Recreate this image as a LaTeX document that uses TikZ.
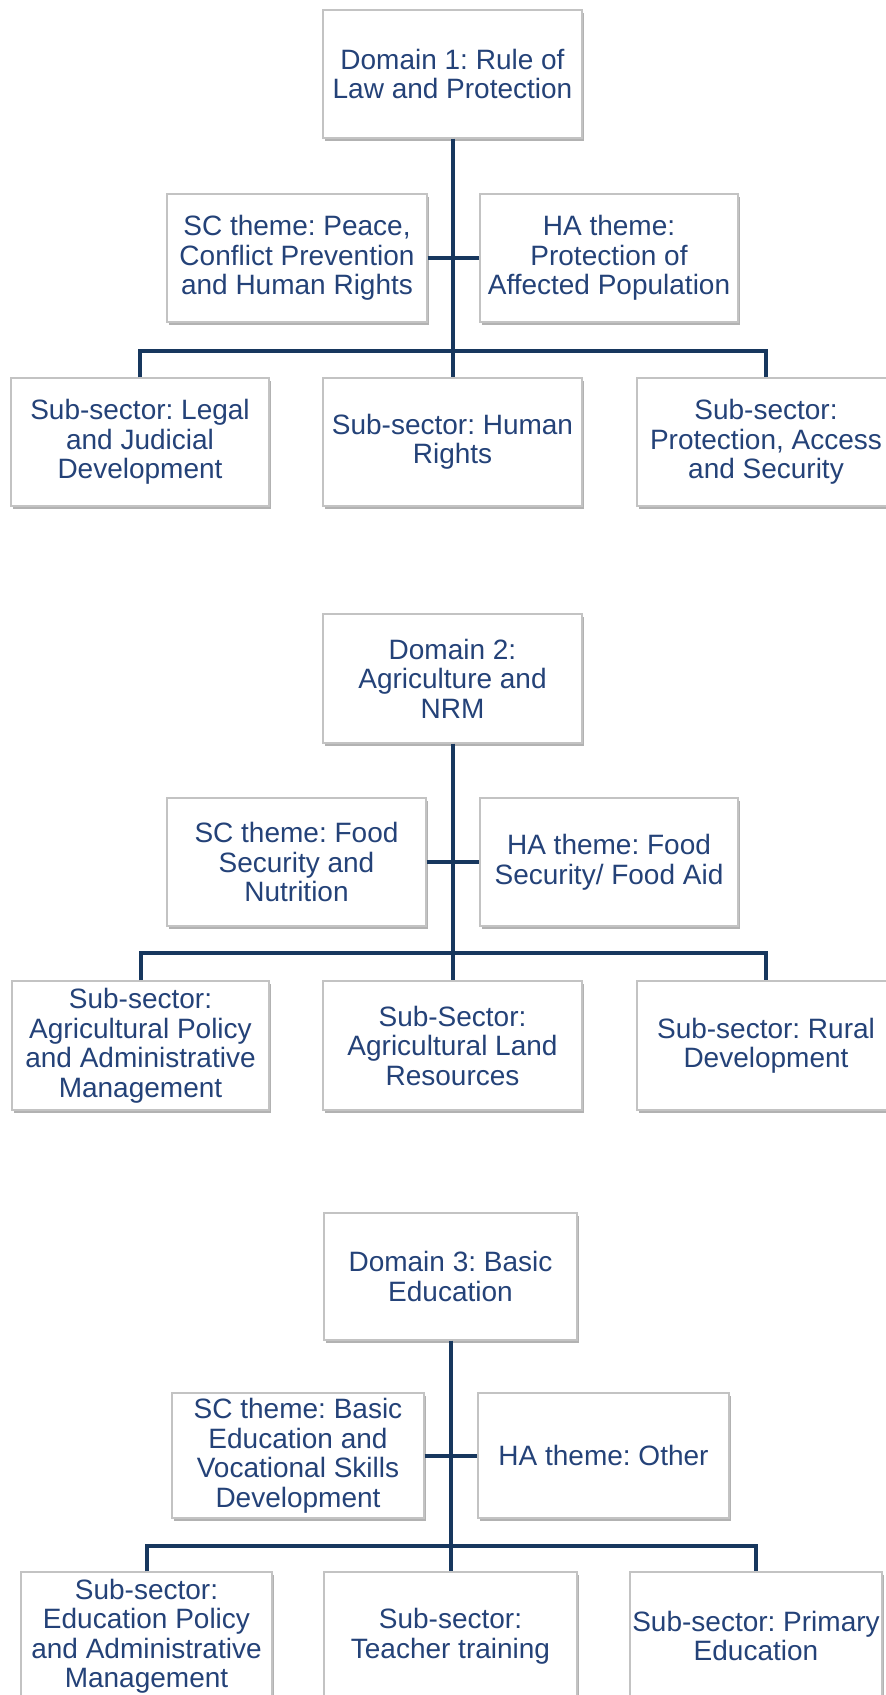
\documentclass[tikz,border=0pt]{standalone}
\usepackage{fontspec}
\setmainfont{Liberation Sans}
\usetikzlibrary{shadows}
\definecolor{txtblue}{RGB}{36,66,120}
\definecolor{linenavy}{RGB}{23,55,94}
\definecolor{boxgray}{RGB}{195,195,195}
\tikzset{
  box/.style={draw=boxgray, line width=1.2pt, fill=white, align=center,
    text=txtblue, font=\fontsize{28}{29.5}\selectfont\frenchspacing, inner sep=0pt,
    drop shadow={shadow xshift=1.5pt, shadow yshift=-2.5pt, opacity=0.5, fill=black!60}},
  sz/.style 2 args={minimum width=#1pt, minimum height=#2pt},
  conn/.style={draw=linenavy, line width=4pt}
}
\begin{document}
\frenchspacing
\begin{tikzpicture}[x=1pt,y=1pt]
\fill[white] (0,0) rectangle (886,-1695);
\useasboundingbox (0,0) rectangle (886,-1695);

% ---------- Domain 1 ----------
\node[box, sz={259}{128}] (d1) at (452.5,-74) {Domain 1: Rule of\\Law and Protection};
\node[box, sz={260}{128}] (sc1) at (297,-258) {SC theme: Peace,\\Conflict Prevention\\and Human Rights};
\node[box, sz={258}{128}] (ha1) at (609,-258) {HA theme:\\Protection of\\Affected Population};
\node[box, sz={258}{128}] (s11) at (140,-442) {Sub-sector: Legal\\and Judicial\\Development};
\node[box, sz={259}{128}] (s12) at (452.5,-442) {Sub-sector: Human\\Rights};
\node[box, sz={258}{128}] (s13) at (766,-442) {Sub-sector:\\Protection, Access\\and Security};
\coordinate (b1) at (452.5,-351);
\draw[conn] (d1.south) -- (s12.north);
\draw[conn] (sc1.east) -- (ha1.west);
\draw[conn] (s11.north) |- (b1) -| (s13.north);

% ---------- Domain 2 ----------
\node[box, sz={259}{129}] (d2) at (452.5,-678.5) {Domain 2:\\Agriculture and\\NRM};
\node[box, sz={259}{128}] (sc2) at (296.5,-862) {SC theme: Food\\Security and\\Nutrition};
\node[box, sz={258}{128}] (ha2) at (609,-862) {HA theme: Food\\Security/ Food Aid};
\node[box, sz={257}{129}] (s21) at (140.5,-1045.5) {Sub-sector:\\Agricultural Policy\\and Administrative\\Management};
\node[box, sz={259}{129}] (s22) at (452.5,-1045.5) {Sub-Sector:\\Agricultural Land\\Resources};
\node[box, sz={258}{129}] (s23) at (766,-1045.5) {Sub-sector: Rural\\Development};
\coordinate (b2) at (452.5,-953);
\draw[conn] (d2.south) -- (s22.north);
\draw[conn] (sc2.east) -- (ha2.west);
\draw[conn] (s21.north) |- (b2) -| (s23.north);

% ---------- Domain 3 ----------
\node[box, sz={253}{127}] (d3) at (450.5,-1276.5) {Domain 3: Basic\\Education};
\node[box, sz={252}{125}] (sc3) at (298,-1455.5) {SC theme: Basic\\Education and\\Vocational Skills\\Development};
\node[box, sz={251}{125}] (ha3) at (603.5,-1455.5) {HA theme: Other};
\node[box, sz={251}{128}] (s31) at (146.5,-1636) {Sub-sector:\\Education Policy\\and Administrative\\Management};
\node[box, sz={253}{128}] (s32) at (450.5,-1636) {Sub-sector:\\Teacher training};
\node[box, sz={252}{128}] (s33) at (756,-1636) {Sub-sector: Primary\\Education};
\coordinate (b3) at (450.5,-1546);
\draw[conn] (d3.south) -- (s32.north);
\draw[conn] (sc3.east) -- (ha3.west);
\draw[conn] (s31.north) |- (b3) -| (s33.north);
\end{tikzpicture}
\end{document}
